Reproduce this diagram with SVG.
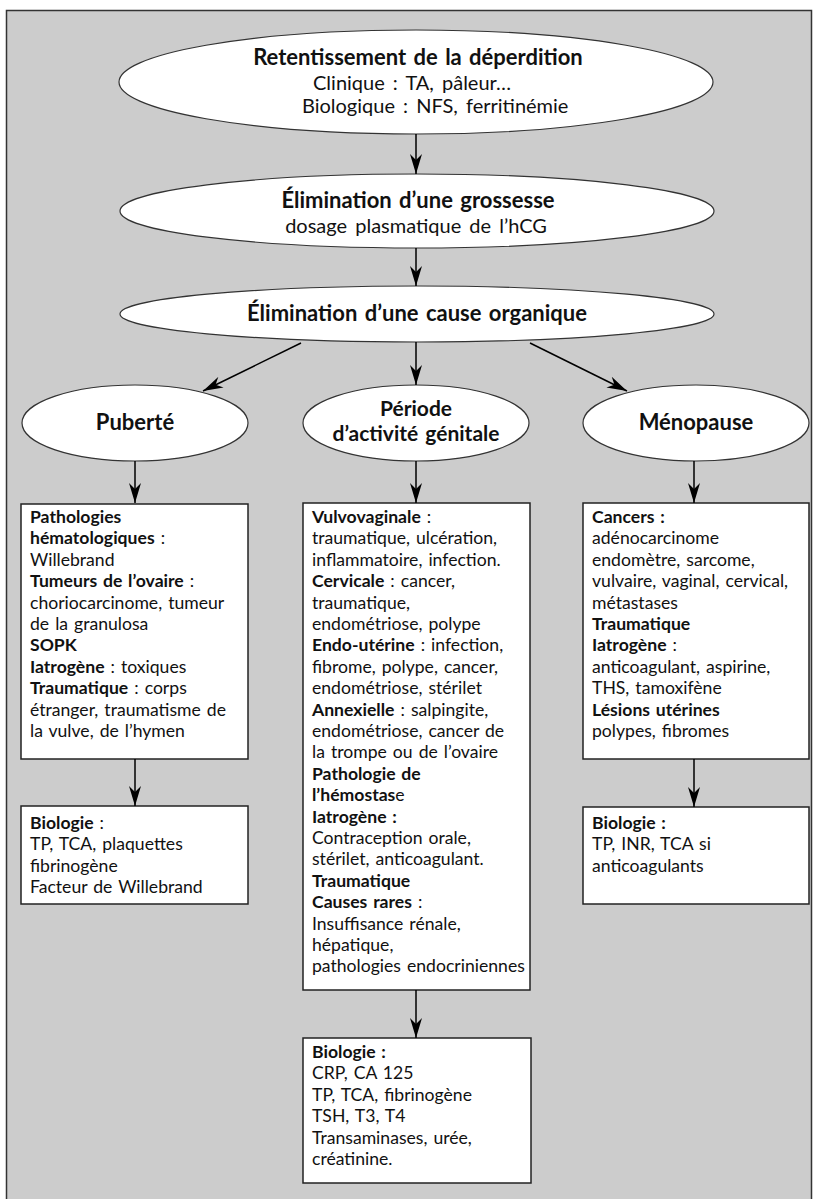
<svg xmlns="http://www.w3.org/2000/svg" width="817" height="1199" viewBox="0 0 817 1199">
<defs>
<marker id="ah" markerUnits="userSpaceOnUse" viewBox="0 0 20 12" refX="20" refY="6" markerWidth="20" markerHeight="12" orient="auto">
<path d="M0,0 L20,6 L0,12 L6,6 Z" fill="#000"/>
</marker>
<style>
.frame{fill:#cccccc;stroke:#333;stroke-width:1.5}
.ell{fill:#fff;stroke:#333;stroke-width:1.2}
.box{fill:#fff;stroke:#222;stroke-width:1.5}
.conn line{stroke:#000;stroke-width:1.5;marker-end:url(#ah)}
text{font-family:Lato,"Liberation Sans",sans-serif;fill:#111}
.et{font-size:22px;font-weight:bold;word-spacing:2px;text-anchor:middle}
.et2{font-size:21px;font-weight:bold;word-spacing:2px;text-anchor:middle}
.er{font-size:20px;word-spacing:3px}
.bt{font-size:17.6px;word-spacing:1.5px}
.b{font-weight:bold}
</style>
</defs>
<rect class="frame" x="6.5" y="10.5" width="805" height="1200"/>

<g id="n-retentissement">
<ellipse class="ell" cx="416" cy="82" rx="297" ry="52"/>
<text class="et" x="418" y="65">Retentissement de la déperdition</text>
<text class="er" x="313" y="90">Clinique : TA, pâleur…</text>
<text class="er" x="302" y="113">Biologique : NFS, ferritinémie</text>
</g>

<g id="n-grossesse">
<ellipse class="ell" cx="417" cy="211" rx="297" ry="37"/>
<text class="et" x="418" y="208">Élimination d’une grossesse</text>
<text class="er" x="416" y="233" text-anchor="middle">dosage plasmatique de l’hCG</text>
</g>

<g id="n-organique">
<ellipse class="ell" cx="417" cy="314" rx="297" ry="28"/>
<text class="et" x="417" y="321">Élimination d’une cause organique</text>
</g>

<g id="n-puberte">
<ellipse class="ell" cx="135" cy="423" rx="113" ry="38"/>
<text class="et" x="135" y="430">Puberté</text>
</g>

<g id="n-periode">
<ellipse class="ell" cx="416" cy="423" rx="113" ry="38"/>
<text class="et2" x="416" y="416">Période</text>
<text class="et2" x="416" y="441">d’activité génitale</text>
</g>

<g id="n-menopause">
<ellipse class="ell" cx="696" cy="423" rx="113" ry="38"/>
<text class="et" x="696" y="430">Ménopause</text>
</g>

<g id="n-puberte-causes">
<rect class="box" x="21" y="504" width="227" height="255"/>
<text class="bt" x="30" y="523"><tspan class="b">Pathologies</tspan></text>
<text class="bt" x="30" y="544.4"><tspan class="b">hématologiques</tspan> :</text>
<text class="bt" x="30" y="565.8">Willebrand</text>
<text class="bt" x="30" y="587.2"><tspan class="b">Tumeurs de l’ovaire</tspan> :</text>
<text class="bt" x="30" y="608.6">choriocarcinome, tumeur</text>
<text class="bt" x="30" y="630">de la granulosa</text>
<text class="bt" x="30" y="651.4"><tspan class="b">SOPK</tspan></text>
<text class="bt" x="30" y="672.8"><tspan class="b">Iatrogène</tspan> : toxiques</text>
<text class="bt" x="30" y="694.2"><tspan class="b">Traumatique</tspan> : corps</text>
<text class="bt" x="30" y="715.6">étranger, traumatisme de</text>
<text class="bt" x="30" y="737">la vulve, de l’hymen</text>
</g>

<g id="n-puberte-bio">
<rect class="box" x="21" y="806" width="227" height="98"/>
<text class="bt" x="30" y="829"><tspan class="b">Biologie</tspan> :</text>
<text class="bt" x="30" y="850.4">TP, TCA, plaquettes</text>
<text class="bt" x="30" y="871.8">fibrinogène</text>
<text class="bt" x="30" y="893.2">Facteur de Willebrand</text>
</g>

<g id="n-periode-causes">
<rect class="box" x="303" y="503" width="227" height="487"/>
<text class="bt" x="312" y="523"><tspan class="b">Vulvovaginale</tspan> :</text>
<text class="bt" x="312" y="544.4">traumatique, ulcération,</text>
<text class="bt" x="312" y="565.8">inflammatoire, infection.</text>
<text class="bt" x="312" y="587.2"><tspan class="b">Cervicale</tspan> : cancer,</text>
<text class="bt" x="312" y="608.6">traumatique,</text>
<text class="bt" x="312" y="630">endométriose, polype</text>
<text class="bt" x="312" y="651.4"><tspan class="b">Endo-utérine</tspan> : infection,</text>
<text class="bt" x="312" y="672.8">fibrome, polype, cancer,</text>
<text class="bt" x="312" y="694.2">endométriose, stérilet</text>
<text class="bt" x="312" y="715.6"><tspan class="b">Annexielle</tspan> : salpingite,</text>
<text class="bt" x="312" y="737">endométriose, cancer de</text>
<text class="bt" x="312" y="758.4">la trompe ou de l’ovaire</text>
<text class="bt" x="312" y="779.8"><tspan class="b">Pathologie de</tspan></text>
<text class="bt" x="312" y="801.2"><tspan class="b">l’hémostas</tspan>e</text>
<text class="bt" x="312" y="822.6"><tspan class="b">Iatrogène :</tspan></text>
<text class="bt" x="312" y="844">Contraception orale,</text>
<text class="bt" x="312" y="865.4">stérilet, anticoagulant.</text>
<text class="bt" x="312" y="886.8"><tspan class="b">Traumatique</tspan></text>
<text class="bt" x="312" y="908.2"><tspan class="b">Causes rares</tspan> :</text>
<text class="bt" x="312" y="929.6">Insuffisance rénale,</text>
<text class="bt" x="312" y="951">hépatique,</text>
<text class="bt" x="312" y="972.4">pathologies endocriniennes</text>
</g>

<g id="n-periode-bio">
<rect class="box" x="303" y="1038" width="228" height="145"/>
<text class="bt" x="312" y="1058"><tspan class="b">Biologie :</tspan></text>
<text class="bt" x="312" y="1079.4">CRP, CA 125</text>
<text class="bt" x="312" y="1100.8">TP, TCA, fibrinogène</text>
<text class="bt" x="312" y="1122.2">TSH, T3, T4</text>
<text class="bt" x="312" y="1143.6">Transaminases, urée,</text>
<text class="bt" x="312" y="1165">créatinine.</text>
</g>

<g id="n-menopause-causes">
<rect class="box" x="583" y="503" width="226" height="256"/>
<text class="bt" x="592" y="523"><tspan class="b">Cancers :</tspan></text>
<text class="bt" x="592" y="544.4">adénocarcinome</text>
<text class="bt" x="592" y="565.8">endomètre, sarcome,</text>
<text class="bt" x="592" y="587.2">vulvaire, vaginal, cervical,</text>
<text class="bt" x="592" y="608.6">métastases</text>
<text class="bt" x="592" y="630"><tspan class="b">Traumatique</tspan></text>
<text class="bt" x="592" y="651.4"><tspan class="b">Iatrogène</tspan> :</text>
<text class="bt" x="592" y="672.8">anticoagulant, aspirine,</text>
<text class="bt" x="592" y="694.2">THS, tamoxifène</text>
<text class="bt" x="592" y="715.6"><tspan class="b">Lésions utérines</tspan></text>
<text class="bt" x="592" y="737">polypes, fibromes</text>
</g>

<g id="n-menopause-bio">
<rect class="box" x="583" y="807" width="226" height="97"/>
<text class="bt" x="592" y="829"><tspan class="b">Biologie :</tspan></text>
<text class="bt" x="592" y="850.4">TP, INR, TCA si</text>
<text class="bt" x="592" y="871.8">anticoagulants</text>
</g>

<g id="connectors" class="conn">
<line x1="416" y1="134" x2="416" y2="174"/>
<line x1="416" y1="248" x2="416" y2="286"/>
<line x1="301" y1="343" x2="203" y2="391"/>
<line x1="416" y1="342" x2="416" y2="385"/>
<line x1="530" y1="343" x2="627" y2="391"/>
<line x1="135" y1="461" x2="135" y2="503"/>
<line x1="416" y1="461" x2="416" y2="503"/>
<line x1="694" y1="461" x2="694" y2="503"/>
<line x1="135" y1="759" x2="135" y2="806"/>
<line x1="416" y1="990" x2="416" y2="1038"/>
<line x1="694" y1="759" x2="694" y2="807"/>
</g>
</svg>
